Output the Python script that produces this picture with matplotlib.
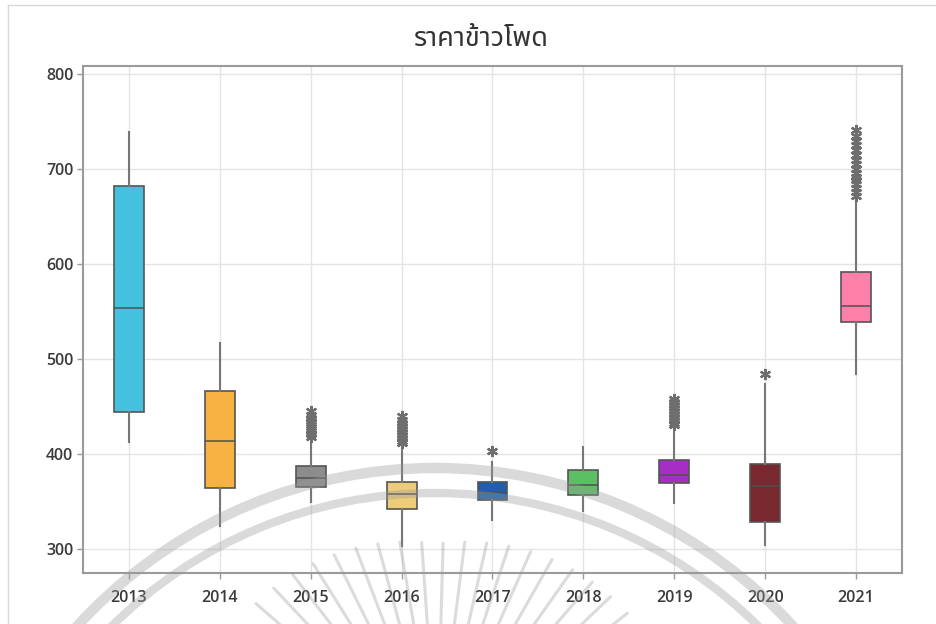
import numpy as np
import matplotlib.pyplot as plt
from matplotlib.patches import Arc
from matplotlib.lines import Line2D

years = ['2013', '2014', '2015', '2016', '2017', '2018', '2019', '2020', '2021']

# box plot summary per year: whisker low, Q1, median, Q3, whisker high
whislo = [412.6, 323.5, 349.8, 303.0, 330.5, 340.3, 348.0, 303.5, 484.2]
q1 = [443.9, 363.9, 365.6, 342.1, 350.9, 356.8, 369.1, 328.1, 538.6]
med = [553.7, 413.3, 375.0, 357.9, 359.7, 367.4, 377.9, 366.0, 556.0]
q3 = [682.5, 466.7, 387.7, 370.2, 370.2, 382.5, 393.0, 389.5, 591.9]
whishi = [739.3, 516.8, 412.3, 407.0, 391.9, 407.0, 426.3, 473.7, 668.4]

outliers = [
    [],
    [],
    [418, 421, 424, 426, 428, 430, 432, 435, 438, 441, 445],
    [411, 414, 417, 420, 423, 426, 429, 432, 436, 440],
    [403.5],
    [],
    [430, 433, 436, 439, 442, 445, 448, 451, 455, 458],
    [484.2],
    [672, 676, 680, 684, 688, 692, 696, 700, 705, 710, 715, 720, 725, 730, 735, 741],
]

colors = ['#45C1E0', '#F8B241', '#8C8C8C', '#EDCC7A', '#1F5FAE',
          '#5CBF64', '#A52FC4', '#7A2830', '#FF80A8']

W, H = 937, 624
fig = plt.figure(figsize=(W / 100, H / 100), dpi=100)
ax = fig.add_axes([83 / W, 1 - 573 / H, (902 - 83) / W, (573 - 66) / H])

stats = []
for i in range(len(years)):
    stats.append(dict(whislo=whislo[i], q1=q1[i], med=med[i], q3=q3[i],
                      whishi=whishi[i], fliers=outliers[i], label=years[i]))

bp = ax.bxp(stats, positions=range(len(years)), widths=0.33, patch_artist=True,
            showcaps=False,
            boxprops=dict(edgecolor='#555555', linewidth=1.2),
            medianprops=dict(color='#505050', linewidth=1.1),
            whiskerprops=dict(color='#777777', linewidth=1.5),
            flierprops=dict(marker=(6, 2, 0), markersize=8, markeredgewidth=1.6,
                            markeredgecolor='#6e6e6e', linestyle='none'))
for box, c in zip(bp['boxes'], colors):
    box.set_facecolor(c)

ax.set_xlim(-0.505, 8.505)
ax.set_ylim(274.5, 808.5)
ax.set_yticks([300, 400, 500, 600, 700, 800])
ax.grid(True, color='#e4e4e4', linewidth=1)
ax.set_axisbelow(True)
for s in ax.spines.values():
    s.set_color('#9a9a9a')
    s.set_linewidth(1.5)
ax.tick_params(axis='both', colors='#9a9a9a', length=4, width=1,
               labelcolor='#3a3a3a', labelsize=11.5)
for lab in ax.get_xticklabels() + ax.get_yticklabels():
    lab.set_fontfamily('Open Sans')
    lab.set_fontweight('semibold')
ax.tick_params(axis='x', pad=8)
ax.tick_params(axis='y', pad=3)

fig.text(481 / W, 1 - 39 / H, 'ราคาข้าวโพด', ha='center', va='center',
         fontsize=19.5, fontweight='semibold', color='#333333',
         family=['Noto Sans Thai', 'DejaVu Sans'])

# thin frame around the figure
fig.add_artist(Line2D([8 / W, 1], [1 - 5 / H, 1 - 5 / H], transform=fig.transFigure,
                      color='#d8d8d8', linewidth=1))
fig.add_artist(Line2D([8 / W, 8 / W], [0, 1 - 5 / H], transform=fig.transFigure,
                      color='#d8d8d8', linewidth=1))

# faint seal in the background: two rings and a fan of rays
cx, cy = 435, 952
for r, lw in [(484, 7.5), (459, 6)]:
    fig.add_artist(Arc((cx / W, 1 - cy / H), 2 * r / W, 2 * r / H,
                       theta1=0, theta2=180, transform=fig.transFigure,
                       color='#9a9a9a', alpha=0.36, linewidth=lw, zorder=10))
rx, ry = 437, 762
for a in np.arange(38, 143, 5.6):
    t = np.deg2rad(a)
    r_out = 218 + 30 * abs(np.cos(t))
    r_in = 70
    x0, y0 = rx + r_out * np.cos(t), ry - r_out * np.sin(t)
    x1, y1 = rx + r_in * np.cos(t), ry - r_in * np.sin(t)
    fig.add_artist(Line2D([x0 / W, x1 / W], [1 - y0 / H, 1 - y1 / H],
                          transform=fig.transFigure, color='#9a9a9a',
                          alpha=0.35, linewidth=2.2, solid_capstyle='round',
                          zorder=10))

fig.savefig('out.png', dpi=100)
